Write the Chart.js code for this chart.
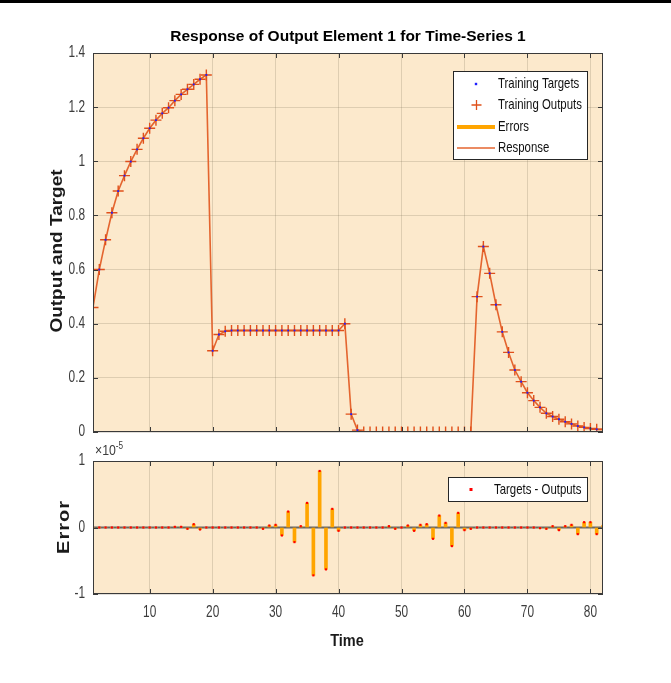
<!DOCTYPE html>
<html>
<head>
<meta charset="utf-8">
<script src="https://cdn.jsdelivr.net/npm/chart.js@4.4.1/dist/chart.umd.min.js"></script>
<style>
  body { margin: 0; background: #fff; width: 671px; height: 683px; overflow: hidden; position: relative; }
  #rule { position: absolute; left: 0; top: 0; width: 671px; height: 3px; background: #000; }
  #response { position: absolute; left: 0; top: 0; }
  #error { position: absolute; left: 0; top: 440px; }
</style>
</head>
<body>
<div id="rule"></div>
<canvas id="response" width="671" height="440"></canvas>
<canvas id="error" width="671" height="243"></canvas>
<script>
// time steps of the series
const time = Array.from({ length: 82 }, (_, i) => i + 1);

// network outputs for each time step
const outputs = [
  0.46, 0.60, 0.71, 0.81, 0.89, 0.947, 0.999, 1.044, 1.085, 1.122,
  1.152, 1.177, 1.198, 1.224, 1.247, 1.266, 1.284, 1.303, 1.319, 0.30,
  0.36, 0.372, 0.375, 0.375, 0.375, 0.375, 0.375, 0.375, 0.375, 0.375,
  0.375, 0.375, 0.375, 0.375, 0.375, 0.375, 0.375, 0.375, 0.375, 0.375,
  0.40, 0.066, 0.007, 0, 0, 0, 0, 0, 0, 0,
  0, 0, 0, 0, 0, 0, 0, 0, 0, 0,
  0, 0.50, 0.685, 0.586, 0.470, 0.370, 0.294, 0.229, 0.186, 0.145,
  0.116, 0.091, 0.069, 0.057, 0.047, 0.038, 0.030, 0.022, 0.017, 0.013,
  0.010, 0.009
];

// targets - outputs, in units of 1e-5
const errors = [
  0, 0, 0, 0, 0, 0, 0, 0, 0, 0,
  0, 0, 0, 0.01, 0.01, -0.02, 0.05, -0.03, 0, 0,
  0, 0, 0, 0, 0, 0, 0, -0.02, 0.03, 0.04,
  -0.12, 0.24, -0.22, 0.02, 0.37, -0.72, 0.85, -0.63, 0.28, -0.05,
  0, 0, 0, 0, 0, 0, 0, 0.02, -0.02, 0,
  0.03, -0.05, 0.04, 0.05, -0.17, 0.18, 0.07, -0.28, 0.22, -0.04,
  -0.02, 0, 0, 0, 0, 0, 0, 0, 0, 0,
  0, -0.01, -0.02, 0.02, -0.04, 0.02, 0.04, -0.10, 0.08, 0.08,
  -0.10, 0.03
];
const errExponent = -5;

const xTicks = [10, 20, 30, 40, 50, 60, 70, 80];
const yTicksResponse = [0, 0.2, 0.4, 0.6, 0.8, 1, 1.2, 1.4];
const yTicksError = [-1, 0, 1];

const targets = outputs.map((v, i) => v + errors[i] * Math.pow(10, errExponent));

const SANS = "'Liberation Sans', Arial, sans-serif";
const BG = '#fce9cc';
const GRID = 'rgba(120, 105, 80, 0.22)';
const AXIS = '#3a3a3a';
const TICK_TEXT = '#3c3c3c';
const TARGET_COLOR = '#1f1fff';
const OUTPUT_COLOR = '#e0501a';
const RESPONSE_COLOR = '#e4652f';
const ERROR_COLOR = '#ffa500';
const DIFF_COLOR = '#ff0000';

const pts = (ys) => time.map((t, i) => ({ x: t, y: ys[i] }));
const setTicks = (list) => (s) => { s.ticks = list.map(v => ({ value: v })); };

// text helper: optional horizontal squeeze and rotation
function text(ctx, str, x, y, o) {
  ctx.save();
  ctx.font = o.font;
  ctx.fillStyle = o.color || '#000';
  ctx.textAlign = o.align || 'center';
  ctx.textBaseline = o.baseline || 'middle';
  if (o.spacing) ctx.letterSpacing = o.spacing + 'px';
  ctx.translate(x, y);
  if (o.squeeze) ctx.scale(o.squeeze, 1);
  if (o.rotate) ctx.rotate(o.rotate);
  ctx.fillText(str, 0, 0);
  const w = ctx.measureText(str).width;
  ctx.restore();
  return w * (o.squeeze || 1);
}

// peach plot background, inward tick marks and box
const plotFrame = {
  id: 'plotFrame',
  beforeDraw(chart) {
    const { ctx, chartArea: a } = chart;
    ctx.save();
    ctx.fillStyle = BG;
    ctx.fillRect(a.left, a.top, a.right - a.left, a.bottom - a.top);
    ctx.restore();
  },
  afterDatasetsDraw(chart) {
    const { ctx, chartArea: a, scales: { x, y } } = chart;
    ctx.save();
    ctx.strokeStyle = AXIS;
    ctx.lineWidth = 1;
    ctx.beginPath();
    for (const t of x.ticks) {
      const px = Math.round(x.getPixelForValue(t.value)) + 0.5;
      ctx.moveTo(px, a.bottom); ctx.lineTo(px, a.bottom - 5);
      ctx.moveTo(px, a.top); ctx.lineTo(px, a.top + 5);
    }
    for (const t of y.ticks) {
      const py = Math.round(y.getPixelForValue(t.value)) + 0.5;
      ctx.moveTo(a.left, py); ctx.lineTo(a.left + 5, py);
      ctx.moveTo(a.right, py); ctx.lineTo(a.right - 5, py);
    }
    ctx.stroke();
    ctx.strokeRect(a.left + 0.5, a.top + 0.5, a.right - a.left - 1, a.bottom - a.top - 1);
    ctx.restore();
  }
};

// narrow tick labels placed from the chart's own scales
function tickLabels(showX) {
  return {
    id: 'tickLabels',
    afterDraw(chart) {
      const { ctx, chartArea: a, scales: { x, y } } = chart;
      const o = { font: '16px ' + SANS, color: TICK_TEXT, squeeze: 0.74 };
      for (const t of y.ticks) {
        text(ctx, String(t.value), a.left - 8, y.getPixelForValue(t.value), { ...o, align: 'right' });
      }
      if (showX) {
        for (const t of x.ticks) {
          text(ctx, String(t.value), x.getPixelForValue(t.value), a.bottom + 19, o);
        }
      }
    }
  };
}

// dark line along zero error
const zeroLine = {
  id: 'zeroLine',
  beforeDatasetsDraw(chart) {
    const { ctx, chartArea: a, scales: { y } } = chart;
    const py = y.getPixelForValue(0);
    ctx.save();
    ctx.strokeStyle = '#666';
    ctx.lineWidth = 2;
    ctx.beginPath();
    ctx.moveTo(a.left, py); ctx.lineTo(a.right, py);
    ctx.stroke();
    ctx.restore();
  }
};

function captions(items) {
  return {
    id: 'captions',
    afterDraw(chart) {
      for (const c of items) {
        const w = text(chart.ctx, c.text, c.x, c.y, c);
        if (c.sup) {
          text(chart.ctx, c.sup, c.x + w, c.y - 6, { ...c, font: c.supFont });
        }
      }
    }
  };
}

function boxLegend(box, rows) {
  return {
    id: 'boxLegend',
    afterDraw(chart) {
      const ctx = chart.ctx;
      ctx.save();
      ctx.fillStyle = '#fff';
      ctx.fillRect(box.x, box.y, box.w, box.h);
      ctx.strokeStyle = '#262626';
      ctx.lineWidth = 1;
      ctx.strokeRect(box.x + 0.5, box.y + 0.5, box.w - 1, box.h - 1);
      for (const r of rows) {
        ctx.save();
        r.sample(ctx, box.sx0, box.sx1, r.y);
        ctx.restore();
        text(ctx, r.label, box.tx, r.y, { font: '15px ' + SANS, color: '#111', align: 'left', squeeze: 0.76 });
      }
      ctx.restore();
    }
  };
}

const sampleDot = (color, r) => (ctx, x0, x1, y) => {
  ctx.fillStyle = color;
  const cx = (x0 + x1) / 2;
  ctx.fillRect(cx - r, y - r, 2 * r, 2 * r);
};
const samplePlus = (color) => (ctx, x0, x1, y) => {
  const cx = Math.round((x0 + x1) / 2) + 0.5;
  ctx.strokeStyle = color;
  ctx.lineWidth = 1.3;
  ctx.beginPath();
  ctx.moveTo(cx - 5, y); ctx.lineTo(cx + 5, y);
  ctx.moveTo(cx, y - 5); ctx.lineTo(cx, y + 5);
  ctx.stroke();
};
const sampleLine = (color, w) => (ctx, x0, x1, y) => {
  ctx.strokeStyle = color;
  ctx.lineWidth = w;
  ctx.beginPath();
  ctx.moveTo(x0, y); ctx.lineTo(x1, y);
  ctx.stroke();
};

new Chart(document.getElementById('response'), {
  type: 'line',
  data: {
    datasets: [
      {
        label: 'Training Targets',
        data: pts(targets),
        showLine: false,
        pointStyle: 'rect',
        pointRadius: 1.3,
        pointBackgroundColor: TARGET_COLOR,
        pointBorderWidth: 0
      },
      {
        label: 'Training Outputs',
        data: pts(outputs),
        showLine: false,
        pointStyle: 'cross',
        pointRadius: 5.5,
        pointBorderColor: OUTPUT_COLOR,
        pointBorderWidth: 1.4
      },
      {
        label: 'Response',
        data: pts(outputs),
        borderColor: RESPONSE_COLOR,
        borderWidth: 1.6,
        pointRadius: 0,
        tension: 0
      }
    ]
  },
  options: {
    responsive: false,
    animation: false,
    events: [],
    layout: { padding: { top: 53, right: 68, bottom: 8, left: 0 } },
    plugins: { legend: { display: false }, tooltip: { enabled: false } },
    scales: {
      x: {
        type: 'linear', min: 1, max: 82,
        afterBuildTicks: setTicks(xTicks),
        afterFit: (s) => { s.height = 0; },
        ticks: { display: false },
        grid: { color: GRID, drawTicks: false },
        border: { display: false }
      },
      y: {
        min: 0, max: 1.4,
        afterBuildTicks: setTicks(yTicksResponse),
        afterFit: (s) => { s.width = 93; },
        ticks: { display: false },
        grid: { color: GRID, drawTicks: false },
        border: { display: false }
      }
    }
  },
  plugins: [
    plotFrame,
    tickLabels(false),
    captions([
      { text: 'Response of Output Element 1 for Time-Series 1', x: 348, y: 37, font: 'bold 15.5px ' + SANS, color: '#000' },
      { text: 'Output and Target', x: 58, y: 251, font: 'bold 19px ' + SANS, color: '#1a1a1a', squeeze: 0.85, rotate: -Math.PI / 2 }
    ]),
    boxLegend({ x: 453, y: 71, w: 135, h: 89, sx0: 457, sx1: 495, tx: 498 }, [
      { label: 'Training Targets', y: 84, sample: sampleDot(TARGET_COLOR, 1.2) },
      { label: 'Training Outputs', y: 105, sample: samplePlus(OUTPUT_COLOR) },
      { label: 'Errors', y: 127, sample: sampleLine(ERROR_COLOR, 4) },
      { label: 'Response', y: 148, sample: sampleLine(RESPONSE_COLOR, 1.5) }
    ])
  ]
});

new Chart(document.getElementById('error'), {
  type: 'bar',
  data: {
    datasets: [
      {
        type: 'line',
        label: 'Targets - Outputs',
        data: pts(errors),
        showLine: false,
        pointStyle: 'rect',
        pointRadius: 1.5,
        pointBackgroundColor: DIFF_COLOR,
        pointBorderWidth: 0
      },
      {
        type: 'bar',
        label: 'Errors',
        data: pts(errors),
        backgroundColor: ERROR_COLOR,
        barThickness: 3
      }
    ]
  },
  options: {
    responsive: false,
    animation: false,
    events: [],
    layout: { padding: { top: 21, right: 68, bottom: 59, left: 0 } },
    plugins: { legend: { display: false }, tooltip: { enabled: false } },
    scales: {
      x: {
        type: 'linear', min: 1, max: 82, offset: false,
        afterBuildTicks: setTicks(xTicks),
        afterFit: (s) => { s.height = 30; },
        ticks: { display: false },
        grid: { color: GRID, drawTicks: false, offset: false },
        border: { display: false }
      },
      y: {
        min: -1, max: 1,
        afterBuildTicks: setTicks(yTicksError),
        afterFit: (s) => { s.width = 93; },
        ticks: { display: false },
        grid: { color: GRID, drawTicks: false },
        border: { display: false }
      }
    }
  },
  plugins: [
    plotFrame,
    zeroLine,
    tickLabels(true),
    captions([
      { text: '\u00d710', sup: String(errExponent), x: 95, y: 15, align: 'left', baseline: 'alphabetic', font: '15px ' + SANS, supFont: '10px ' + SANS, color: TICK_TEXT, squeeze: 0.82 },
      { text: 'Error', x: 64, y: 87, font: 'bold 20px ' + SANS, color: '#1a1a1a', squeeze: 0.85, spacing: 1, rotate: -Math.PI / 2 },
      { text: 'Time', x: 347, y: 201, font: 'bold 16.5px ' + SANS, color: '#1a1a1a', squeeze: 0.88 }
    ]),
    boxLegend({ x: 448, y: 37, w: 140, h: 25, sx0: 457, sx1: 485, tx: 494 }, [
      { label: 'Targets - Outputs', y: 49.5, sample: sampleDot(DIFF_COLOR, 1.5) }
    ])
  ]
});
</script>
</body>
</html>
